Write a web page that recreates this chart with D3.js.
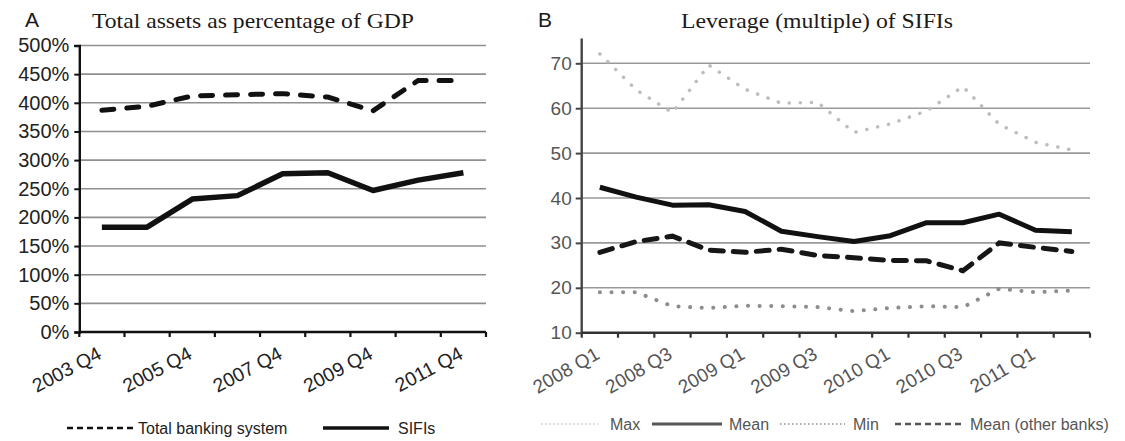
<!DOCTYPE html>
<html>
<head>
<meta charset="utf-8">
<script src="https://cdn.jsdelivr.net/npm/d3@7"></script>
<style>
  html, body { margin: 0; padding: 0; background: #fff; }
  svg { display: block; }
  .sans { font-family: "Liberation Sans", Arial, sans-serif; }
  .serif { font-family: "Liberation Serif", "Times New Roman", serif; }
</style>
</head>
<body>
<svg id="chart" width="1125" height="441"></svg>
<script>
// Panel A: total assets as percentage of GDP (yearly, Q4)
const yearsA = ["2003 Q4", "2004 Q4", "2005 Q4", "2006 Q4", "2007 Q4",
                "2008 Q4", "2009 Q4", "2010 Q4", "2011 Q4"];
const totalBanking = [387, 394, 412, 414, 416, 410, 386, 439, 439];
const sifiAssets   = [183, 183, 232, 238, 276, 278, 247, 265, 278];
const ticksA = [0, 50, 100, 150, 200, 250, 300, 350, 400, 450, 500];
const labelsA = ["2003 Q4", "2005 Q4", "2007 Q4", "2009 Q4", "2011 Q4"];

// Panel B: leverage (multiple) of SIFIs, quarterly
const quartersB = ["2008 Q1", "2008 Q2", "2008 Q3", "2008 Q4",
                   "2009 Q1", "2009 Q2", "2009 Q3", "2009 Q4",
                   "2010 Q1", "2010 Q2", "2010 Q3", "2010 Q4",
                   "2011 Q1", "2011 Q2"];
const levMax  = [72.1, 64.1, 59.0, 69.6, 64.2, 61.1, 61.3, 54.6, 56.5, 59.4, 64.8, 56.4, 52.4, 50.7];
const levMean = [42.4, 40.2, 38.4, 38.5, 37.0, 32.6, 31.4, 30.3, 31.6, 34.5, 34.5, 36.4, 32.8, 32.5];
const levMin  = [19.0, 19.0, 15.9, 15.5, 16.0, 15.9, 15.7, 14.8, 15.5, 15.9, 15.7, 19.8, 19.0, 19.4];
const levOther = [27.9, 30.3, 31.5, 28.4, 27.9, 28.6, 27.2, 26.7, 26.1, 26.0, 23.8, 30.0, 29.0, 28.1];
const ticksB = [10, 20, 30, 40, 50, 60, 70];
const labelsB = ["2008 Q1", "2008 Q3", "2009 Q1", "2009 Q3", "2010 Q1", "2010 Q3", "2011 Q1"];

const svg = d3.select("#chart");

// ---------- Panel A ----------
const xA = d3.scaleBand().domain(yearsA).range([79.3, 486]);
const yA = d3.scaleLinear().domain([0, 500]).range([332, 45.5]);
const gA = svg.append("g");

gA.append("text").attr("class", "sans").attr("x", 25).attr("y", 27)
  .attr("font-size", 21).attr("fill", "#1a1a1a").text("A");
gA.append("text").attr("class", "serif").attr("x", 92).attr("y", 28)
  .attr("font-size", 22).attr("fill", "#1e1a18")
  .attr("textLength", 322).attr("lengthAdjust", "spacingAndGlyphs")
  .text("Total assets as percentage of GDP");

// grid
gA.append("g").selectAll("line").data(ticksA.filter(d => d > 0)).join("line")
  .attr("x1", xA.range()[0]).attr("x2", xA.range()[1])
  .attr("y1", d => yA(d)).attr("y2", d => yA(d))
  .attr("stroke", "#8f8f8f").attr("stroke-width", 1.6);

// y axis
const axAy = gA.append("g").attr("transform", `translate(${xA.range()[0]},0)`)
  .call(d3.axisLeft(yA).tickValues(ticksA).tickFormat(d => d + "%").tickSize(5).tickPadding(5));
axAy.select(".domain").attr("stroke", "#111").attr("stroke-width", 2.4);
axAy.selectAll(".tick line").attr("stroke", "#111").attr("stroke-width", 2);
axAy.selectAll("text").attr("class", "sans").attr("font-size", 20).attr("fill", "#222");

// x axis: ticks on band boundaries
const axAx = gA.append("g").attr("transform", `translate(0,${yA(0)})`);
axAx.append("line").attr("x1", xA.range()[0]).attr("x2", xA.range()[1])
  .attr("stroke", "#111").attr("stroke-width", 2.4);
const boundsA = yearsA.map(d => xA(d)).concat([xA.range()[1]]);
axAx.selectAll("line.tk").data(boundsA).join("line").attr("class", "tk")
  .attr("x1", d => d).attr("x2", d => d).attr("y1", 0).attr("y2", 5)
  .attr("stroke", "#111").attr("stroke-width", 2.2);
axAx.selectAll("text").data(labelsA).join("text").attr("class", "sans")
  .attr("transform", d => `translate(${xA(d) + xA.bandwidth() / 2 + 1},${26}) rotate(-28)`)
  .attr("text-anchor", "end").attr("font-size", 19.5).attr("fill", "#222").text(d => d);

const lineA = d3.line().x((d, i) => xA(yearsA[i]) + xA.bandwidth() / 2).y(d => yA(d));
gA.append("path").datum(totalBanking).attr("d", lineA).attr("fill", "none")
  .attr("stroke", "#111").attr("stroke-width", 5).attr("stroke-linecap", "round")
  .attr("stroke-dasharray", "12,13");
gA.append("path").datum(sifiAssets).attr("d", lineA).attr("fill", "none")
  .attr("stroke", "#111").attr("stroke-width", 5.5).attr("stroke-linejoin", "round");

// legend A
const legA = gA.append("g").attr("transform", "translate(0,428)");
legA.append("line").attr("x1", 67).attr("x2", 137).attr("stroke", "#111")
  .attr("stroke-width", 2.5).attr("stroke-dasharray", "6,4");
legA.append("text").attr("class", "sans").attr("x", 138).attr("y", 5.5)
  .attr("font-size", 16).attr("fill", "#222").text("Total banking system");
legA.append("line").attr("x1", 323).attr("x2", 389).attr("stroke", "#111").attr("stroke-width", 3.5);
legA.append("text").attr("class", "sans").attr("x", 398).attr("y", 5.5)
  .attr("font-size", 16).attr("fill", "#222").text("SIFIs");

// ---------- Panel B ----------
const xB = d3.scaleBand().domain(quartersB).range([581.7, 1090]);
const yB = d3.scaleLinear().domain([10, 70]).range([332.7, 63.3]);
const gB = svg.append("g");

gB.append("text").attr("class", "sans").attr("x", 538).attr("y", 27)
  .attr("font-size", 21).attr("fill", "#1a1a1a").text("B");
gB.append("text").attr("class", "serif").attr("x", 681).attr("y", 28)
  .attr("font-size", 22).attr("fill", "#1e1a18")
  .attr("textLength", 272).attr("lengthAdjust", "spacingAndGlyphs")
  .text("Leverage (multiple) of SIFIs");

gB.append("g").selectAll("line").data(ticksB.filter(d => d > 10)).join("line")
  .attr("x1", xB.range()[0]).attr("x2", xB.range()[1])
  .attr("y1", d => yB(d)).attr("y2", d => yB(d))
  .attr("stroke", "#999").attr("stroke-width", 1.6);

const axBy = gB.append("g").attr("transform", `translate(${xB.range()[0]},0)`)
  .call(d3.axisLeft(yB).tickValues(ticksB).tickSize(6).tickPadding(4));
axBy.select(".domain").remove();
axBy.append("line").attr("y1", yB(10)).attr("y2", yB(75.5))
  .attr("stroke", "#444").attr("stroke-width", 2.4);
axBy.selectAll(".tick line").attr("stroke", "#444").attr("stroke-width", 2);
axBy.selectAll("text").attr("class", "sans").attr("font-size", 19).attr("fill", "#555");

const axBx = gB.append("g").attr("transform", `translate(0,${yB(10)})`);
axBx.append("line").attr("x1", xB.range()[0]).attr("x2", xB.range()[1])
  .attr("stroke", "#333").attr("stroke-width", 2.4);
const boundsB = quartersB.map(d => xB(d)).concat([xB.range()[1]]);
axBx.selectAll("line.tk").data(boundsB).join("line").attr("class", "tk")
  .attr("x1", d => d).attr("x2", d => d).attr("y1", 0).attr("y2", 5)
  .attr("stroke", "#333").attr("stroke-width", 2.2);
axBx.selectAll("text").data(labelsB).join("text").attr("class", "sans")
  .attr("transform", d => `translate(${xB(d) + xB.bandwidth() / 2 + 1},${25}) rotate(-30)`)
  .attr("text-anchor", "end").attr("font-size", 19).attr("fill", "#555").text(d => d);

const lineB = d3.line().x((d, i) => xB(quartersB[i]) + xB.bandwidth() / 2).y(d => yB(d));
gB.append("path").datum(levMax).attr("d", lineB).attr("fill", "none")
  .attr("stroke", "#bdbdbd").attr("stroke-width", 3.5).attr("stroke-linecap", "round")
  .attr("stroke-dasharray", "0.1,11");
gB.append("path").datum(levMin).attr("d", lineB).attr("fill", "none")
  .attr("stroke", "#8d8d8d").attr("stroke-width", 4).attr("stroke-linecap", "round")
  .attr("stroke-dasharray", "0.1,11.5");
gB.append("path").datum(levOther).attr("d", lineB).attr("fill", "none")
  .attr("stroke", "#161616").attr("stroke-width", 5).attr("stroke-linecap", "round")
  .attr("stroke-dasharray", "13,10");
gB.append("path").datum(levMean).attr("d", lineB).attr("fill", "none")
  .attr("stroke", "#111").attr("stroke-width", 5).attr("stroke-linejoin", "round");

// legend B
const legB = gB.append("g").attr("transform", "translate(0,424)");
legB.append("line").attr("x1", 541).attr("x2", 598).attr("stroke", "#c8c8c8")
  .attr("stroke-width", 1.5).attr("stroke-dasharray", "1.5,2.5");
legB.append("text").attr("class", "sans").attr("x", 610).attr("y", 5.5)
  .attr("font-size", 16).attr("fill", "#555").text("Max");
legB.append("line").attr("x1", 652).attr("x2", 722).attr("stroke", "#555").attr("stroke-width", 3);
legB.append("text").attr("class", "sans").attr("x", 729).attr("y", 5.5)
  .attr("font-size", 16).attr("fill", "#555").text("Mean");
legB.append("line").attr("x1", 780).attr("x2", 845).attr("stroke", "#aaa")
  .attr("stroke-width", 1.8).attr("stroke-dasharray", "1.5,2.5");
legB.append("text").attr("class", "sans").attr("x", 853).attr("y", 5.5)
  .attr("font-size", 16).attr("fill", "#555").text("Min");
legB.append("line").attr("x1", 895).attr("x2", 965).attr("stroke", "#555")
  .attr("stroke-width", 2.5).attr("stroke-dasharray", "6,4");
legB.append("text").attr("class", "sans").attr("x", 970).attr("y", 5.5)
  .attr("font-size", 16).attr("fill", "#555").text("Mean (other banks)");
</script>
</body>
</html>
